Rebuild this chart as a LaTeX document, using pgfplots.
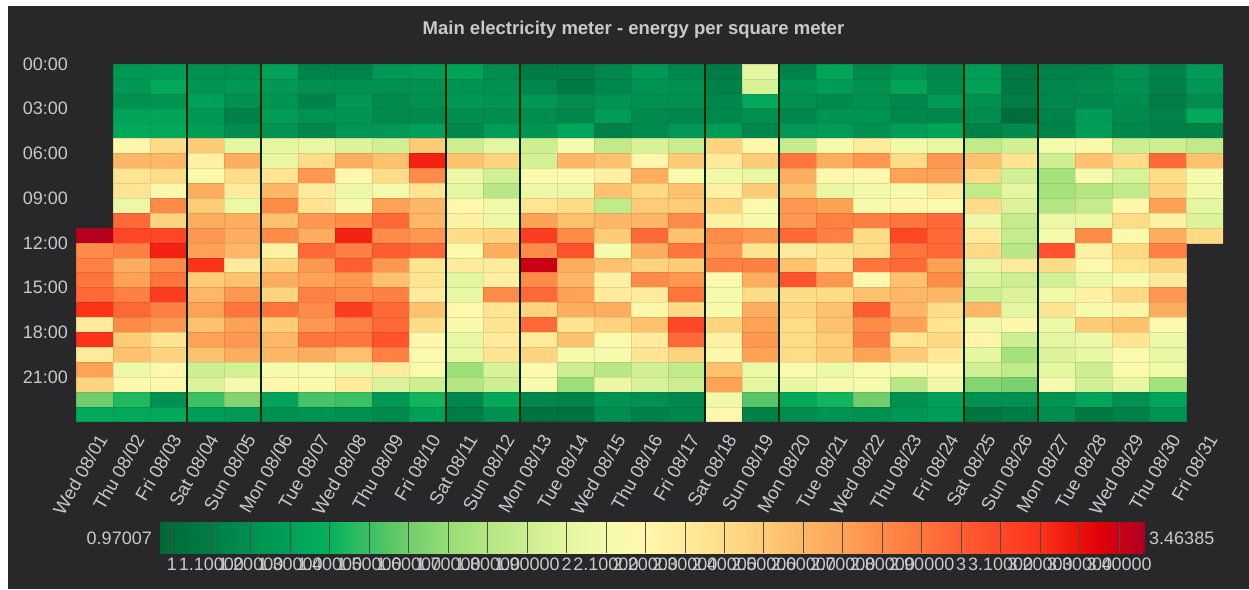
\documentclass[border=0pt]{standalone}
\usepackage{fontspec}
\setmainfont{Liberation Sans}
\usepackage{pgfplots}
\usepackage{pgfplotstable}
\pgfplotsset{compat=1.18}

\definecolor{panel}{HTML}{28282A}
\definecolor{txt}{HTML}{C8C9CA}

% one cell of the carpet: 37 x 14.9 px
\pgfdeclareplotmark{cell}{%
  \pgfpathrectangle{\pgfpoint{-18.5pt}{-7.45pt}}{\pgfpoint{37pt}{14.9pt}}%
  \pgfusepathqfillstroke}

\pgfplotsset{
  colormap={carpet}{
    rgb255(97)=(0,104,55) rgb255(110)=(0,125,70) rgb255(120)=(0,145,80)
    rgb255(130)=(0,160,88) rgb255(140)=(5,178,92) rgb255(150)=(60,192,100)
    rgb255(160)=(115,205,108) rgb255(170)=(150,222,118) rgb255(180)=(182,230,130)
    rgb255(190)=(205,238,145) rgb255(200)=(228,246,160) rgb255(210)=(245,250,172)
    rgb255(220)=(255,247,172) rgb255(230)=(255,235,155) rgb255(240)=(255,220,135)
    rgb255(250)=(254,203,118) rgb255(260)=(253,183,102) rgb255(270)=(254,162,86)
    rgb255(280)=(255,138,72) rgb255(290)=(255,116,60) rgb255(300)=(255,92,50)
    rgb255(310)=(255,70,40) rgb255(320)=(250,50,25) rgb255(330)=(235,15,10)
    rgb255(335)=(225,0,10) rgb255(340)=(200,0,20) rgb255(346)=(175,0,35)
  }
}

% one row per day, one column per hour
\pgfplotstableread{
day h0 h1 h2 h3 h4 h5 h6 h7 h8 h9 h10 h11 h12 h13 h14 h15 h16 h17 h18 h19 h20 h21 h22 h23
1 nan nan nan nan nan nan nan nan nan nan nan 3.45 2.8 2.85 2.9 2.95 3.2 2.3 3.2 2.3 2.7 2.45 1.6 1.35
2 1.25 1.25 1.2 1.32 1.35 2.2 2.6 2.35 2.35 2.05 2.95 3.1 2.85 2.65 2.7 2.85 2.95 2.8 2.5 2.55 2.05 2.15 1.45 1.35
3 1.27 1.35 1.22 1.33 1.35 2.4 2.6 2.4 2.2 2.8 2.45 3.1 3.25 2.8 2.9 3.15 2.85 2.75 2.35 2.45 2.2 2.15 1.2 1.35
4 1.2 1.23 1.3 1.25 1.28 2.5 2.25 2.15 2.65 2.5 2.65 2.75 2.7 3.2 2.5 2.6 2.7 2.55 2.7 2.55 1.9 1.97 1.5 1.28
5 1.2 1.25 1.2 1.12 1.18 2.0 2.65 2.4 2.3 2.05 2.65 2.65 2.6 2.3 2.55 2.75 2.9 2.7 2.75 2.65 1.93 2.1 1.65 1.25
6 1.3 1.25 1.22 1.28 1.22 2.0 2.03 2.35 2.6 2.8 2.55 2.8 2.25 2.45 2.65 2.45 2.9 2.5 2.6 2.6 2.1 2.2 1.33 1.2
7 1.13 1.2 1.13 1.22 1.15 2.03 2.4 2.75 2.3 2.35 2.75 2.65 2.95 2.75 2.7 2.85 2.8 2.75 2.9 2.65 2.15 2.15 1.52 1.22
8 1.13 1.2 1.25 1.23 1.23 1.97 2.65 2.2 2.05 2.1 2.8 3.25 2.85 3.0 2.75 2.8 3.15 2.85 2.9 2.55 2.05 2.3 1.5 1.2
9 1.25 1.2 1.17 1.17 1.25 1.92 2.55 2.4 2.12 2.7 2.95 2.8 3.0 2.75 2.55 2.85 2.95 2.95 3.05 2.85 2.3 1.97 1.25 1.17
10 1.27 1.2 1.2 1.17 1.3 2.5 3.25 2.8 2.35 2.6 2.6 2.75 2.95 2.35 2.35 2.3 2.55 2.4 2.2 2.15 2.15 1.9 1.42 1.3
11 1.32 1.22 1.25 1.18 1.15 1.9 2.55 2.05 2.0 2.2 2.25 2.4 2.15 2.3 2.0 2.02 2.2 2.12 2.03 2.02 1.72 1.8 1.15 1.1
12 1.18 1.2 1.22 1.18 1.28 2.0 2.45 1.92 1.82 2.07 2.05 2.45 2.65 2.3 2.25 2.8 2.35 2.35 2.3 2.35 1.95 1.9 1.35 1.2
13 1.1 1.15 1.25 1.18 1.22 1.9 1.93 2.15 2.05 2.35 2.7 3.15 2.8 3.4 2.8 2.95 2.45 2.95 2.3 2.45 2.17 2.1 1.15 1.03
14 1.1 1.08 1.18 1.15 1.33 2.1 2.6 2.15 2.05 2.4 2.55 2.8 3.05 2.65 2.6 2.7 2.65 2.35 2.55 2.1 1.9 1.72 1.13 1.03
15 1.15 1.15 1.22 1.27 1.12 1.85 2.55 2.25 2.55 1.85 2.6 2.5 2.1 2.55 2.25 2.3 2.65 2.45 2.15 2.1 1.82 2.05 1.22 1.18
16 1.25 1.22 1.2 1.17 1.17 1.95 2.2 2.65 2.42 2.5 2.6 2.95 2.65 2.45 2.8 2.3 2.2 2.55 2.3 2.35 1.92 1.95 1.2 1.12
17 1.15 1.2 1.2 1.15 1.25 1.88 2.5 2.15 2.55 2.5 2.8 2.55 2.9 2.5 2.75 2.9 2.4 3.1 2.95 2.45 1.85 1.9 1.15 1.15
18 1.1 1.12 1.15 1.15 1.28 2.45 2.3 2.07 2.25 2.45 2.25 2.8 2.75 2.85 2.15 2.12 2.1 2.45 2.25 2.2 2.55 2.7 2.07 2.18
19 2.0 1.95 1.35 1.2 1.15 2.2 2.5 2.03 2.5 2.15 2.12 2.75 2.35 2.85 2.65 2.4 2.65 2.7 2.75 2.7 2.05 2.0 1.55 1.12
20 1.13 1.22 1.2 1.15 1.25 1.87 2.9 2.65 2.55 2.75 2.75 2.95 2.3 2.55 3.05 2.4 2.45 2.4 2.4 2.4 2.15 2.03 1.35 1.18
21 1.33 1.27 1.17 1.22 1.27 2.1 2.65 2.2 2.03 2.7 2.85 2.85 2.35 2.35 2.75 2.4 2.55 2.55 2.5 2.5 2.05 2.1 1.42 1.22
22 1.17 1.2 1.2 1.22 1.2 2.3 2.75 2.2 2.07 2.12 2.85 2.4 2.4 2.9 2.18 2.55 3.0 2.8 2.85 2.7 2.15 2.1 1.6 1.2
23 1.22 1.32 1.15 1.15 1.28 2.07 2.4 2.7 2.1 2.2 2.9 3.1 2.9 2.95 2.55 2.6 2.6 2.7 2.35 2.5 2.12 1.82 1.2 1.25
24 1.15 1.17 1.25 1.15 1.33 2.02 2.75 2.7 2.3 2.15 2.95 2.95 2.95 2.7 2.8 2.6 2.4 2.35 2.42 2.32 2.15 2.08 1.3 1.28
25 1.28 1.3 1.2 1.18 1.12 1.85 2.55 2.42 1.85 2.4 2.05 2.3 2.42 2.03 1.97 1.9 2.6 2.08 2.22 2.0 1.92 1.65 1.2 1.05
26 1.07 1.07 1.1 1.0 1.17 1.92 2.35 1.92 2.0 1.97 1.87 1.87 1.82 2.3 1.9 1.97 2.0 2.2 1.9 1.75 1.85 1.62 1.2 1.1
27 1.12 1.15 1.15 1.13 1.13 2.1 1.9 1.75 1.75 1.8 2.05 2.1 3.05 2.4 1.92 2.07 2.35 2.05 2.0 1.97 2.0 2.1 1.22 1.18
28 1.13 1.17 1.15 1.27 1.28 2.15 2.55 2.1 1.8 1.87 2.05 2.8 2.25 2.15 2.05 2.25 2.1 2.5 2.05 2.02 1.9 1.92 1.33 1.07
29 1.2 1.2 1.18 1.17 1.15 1.9 2.4 1.95 1.85 2.2 2.4 2.15 2.42 2.35 2.1 2.42 2.22 2.55 2.35 2.15 2.15 2.02 1.2 1.12
30 1.12 1.12 1.1 1.13 1.13 1.9 2.95 2.4 2.45 2.7 2.25 2.65 2.85 2.45 2.3 2.75 2.65 2.18 2.05 2.02 2.07 1.75 1.33 1.22
31 1.27 1.25 1.18 1.35 1.12 1.85 2.55 2.12 2.07 2.0 1.97 2.42 nan nan nan nan nan nan nan nan nan nan nan nan
}\carpet

\begin{document}
\begin{tikzpicture}[x=1pt,y=1pt]
\useasboundingbox (0,0) rectangle (1249,589);
\fill[white] (0,0) rectangle (1249,589);
\fill[panel] (8,0) rectangle (1249,583);
\node[text=txt,font=\fontsize{18.5}{20}\selectfont\bfseries] at (633.5,559.5) {Main electricity meter - energy per square meter};
\node[text=txt,font=\fontsize{18}{20}\selectfont,anchor=east,inner sep=0pt] at (152,51) {0.97007};
\node[text=txt,font=\fontsize{18}{20}\selectfont,anchor=west,inner sep=0pt] at (1149,51) {3.46385};
\begin{axis}[
    at={(76pt,167.3pt)}, anchor=south west,
    scale only axis, width=1147pt, height=357.7pt,
    xmin=0.5, xmax=31.5, ymin=0, ymax=24, y dir=reverse,
    axis line style={draw=none}, major tick length=0pt,
    clip marker paths=true,
    colormap name=carpet,
    point meta min=0.97007, point meta max=3.46385,
    tick label style={text=txt,font=\fontsize{18}{20}\selectfont},
    xtick={1,...,31},
    xticklabels={Wed 08/01,Thu 08/02,Fri 08/03,Sat 08/04,Sun 08/05,Mon 08/06,Tue 08/07,Wed 08/08,Thu 08/09,Fri 08/10,Sat 08/11,Sun 08/12,Mon 08/13,Tue 08/14,Wed 08/15,Thu 08/16,Fri 08/17,Sat 08/18,Sun 08/19,Mon 08/20,Tue 08/21,Wed 08/22,Thu 08/23,Fri 08/24,Sat 08/25,Sun 08/26,Mon 08/27,Tue 08/28,Wed 08/29,Thu 08/30,Fri 08/31},
    xticklabel style={rotate=60,anchor=east,inner sep=0pt,yshift=-14pt,xshift=-8pt,font=\fontsize{18.5}{20}\selectfont},
    ytick={0,3,...,21},
    yticklabels={00:00,03:00,06:00,09:00,12:00,15:00,18:00,21:00},
    yticklabel style={anchor=east,inner sep=0pt,xshift=-8pt},
]
\pgfplotsinvokeforeach{0,...,23}{
  % nan in y drops the hours the meter has no reading for
  \addplot[scatter, only marks, mark=cell, line width=0.5pt,
    scatter/use mapped color={draw=mapped color!90!black,fill=mapped color},
    point meta=explicit]
    table[x=day, y expr=#1+0.5+\thisrow{h#1}-\thisrow{h#1}, meta=h#1] {\carpet};
}
% weekend boundaries
\addplot[no marks, draw=black!85!green, line width=1.1pt, unbounded coords=jump] coordinates {
(3.5,0)(3.5,24) (nan,nan) (5.5,0)(5.5,24) (nan,nan)
(10.5,0)(10.5,24) (nan,nan) (12.5,0)(12.5,24) (nan,nan)
(17.5,0)(17.5,24) (nan,nan) (19.5,0)(19.5,24) (nan,nan)
(24.5,0)(24.5,24) (nan,nan) (26.5,0)(26.5,24)};
\end{axis}
% colour legend
\begin{axis}[
    at={(160pt,36pt)}, anchor=south west,
    scale only axis, width=984.3pt, height=31pt,
    xmin=0.97007, xmax=3.46385, ymin=0, ymax=1,
    axis on top, axis line style={draw=none}, major tick length=0pt,
    colormap name=carpet,
    point meta min=0.97007, point meta max=3.46385,
    ytick=\empty,
    xtick={1,1.1,1.2,1.3,1.4,1.5,1.6,1.7,1.8,1.9,2,2.1,2.2,2.3,2.4,2.5,2.6,2.7,2.8,2.9,3,3.1,3.2,3.3,3.4},
    xticklabels={1,1.10000,1.20000,1.30000,1.40000,1.50000,1.60000,1.70000,1.80000,1.90000,2,2.10000,2.20000,2.30000,2.40000,2.50000,2.60000,2.70000,2.80000,2.90000,3,3.10000,3.20000,3.30000,3.40000},
    xticklabel style={text=txt,font=\fontsize{18}{20}\selectfont,inner sep=0pt,yshift=-5pt},
    xmajorgrids, grid style={black!70,line width=0.8pt},
]
\addplot[surf, shader=interp, mesh/ordering=y varies, mesh/rows=2, point meta=x] coordinates {
(0.97007,0)(0.97007,1)(1.1,0)(1.1,1)(1.2,0)(1.2,1)(1.3,0)(1.3,1)(1.4,0)(1.4,1)(1.5,0)(1.5,1)
(1.6,0)(1.6,1)(1.7,0)(1.7,1)(1.8,0)(1.8,1)(1.9,0)(1.9,1)(2,0)(2,1)(2.1,0)(2.1,1)(2.2,0)(2.2,1)
(2.3,0)(2.3,1)(2.4,0)(2.4,1)(2.5,0)(2.5,1)(2.6,0)(2.6,1)(2.7,0)(2.7,1)(2.8,0)(2.8,1)(2.9,0)(2.9,1)
(3,0)(3,1)(3.1,0)(3.1,1)(3.2,0)(3.2,1)(3.3,0)(3.3,1)(3.35,0)(3.35,1)(3.4,0)(3.4,1)(3.46385,0)(3.46385,1)};
\end{axis}
\end{tikzpicture}
\end{document}
